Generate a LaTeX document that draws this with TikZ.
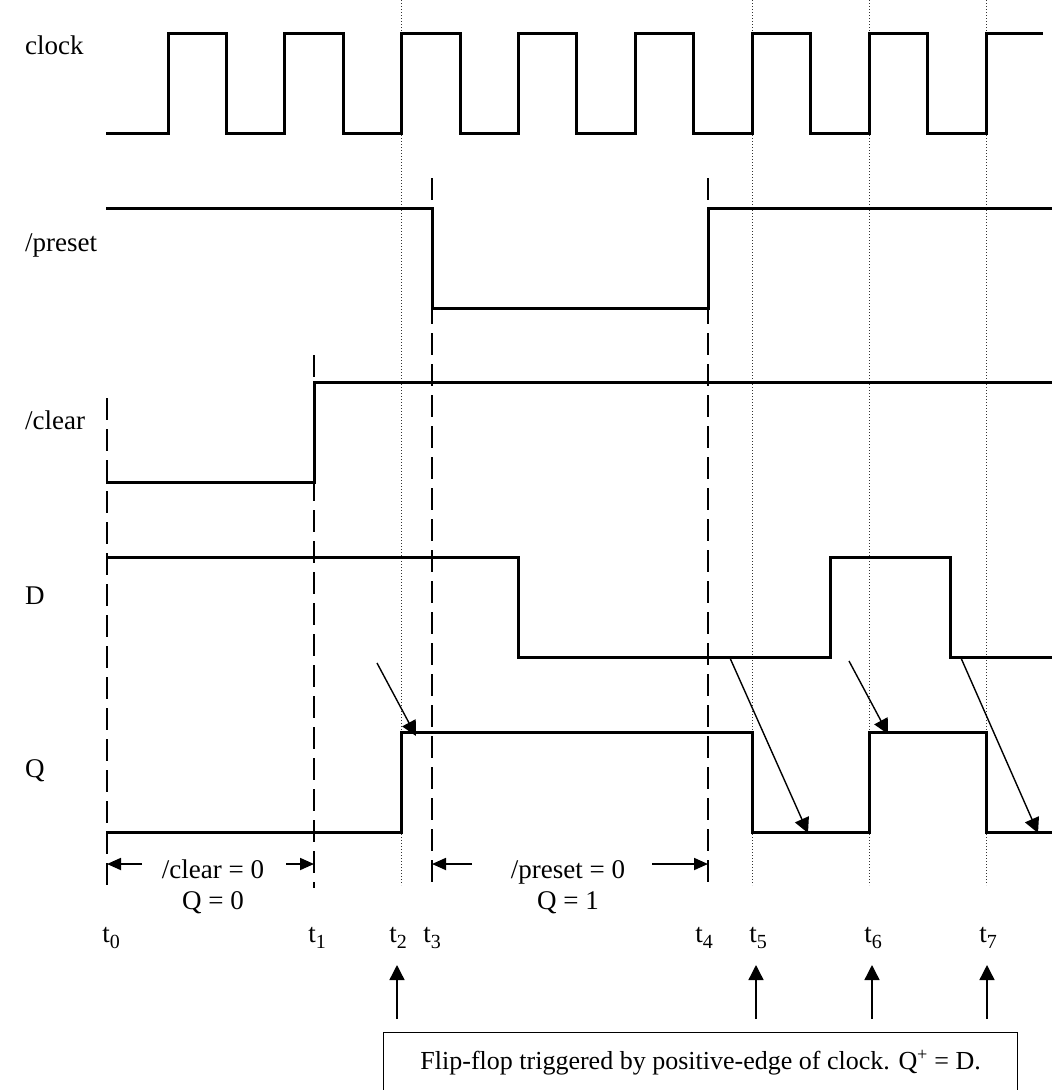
\documentclass[tikz,border=0pt]{standalone}
\usepackage{fontspec}
\setmainfont{Liberation Serif}
\usepackage{xcolor}
\usetikzlibrary{arrows.meta,positioning,calc}
\definecolor{inkblack}{HTML}{000000}
\definecolor{dotgrey}{HTML}{333333}
\newcommand{\tsub}[1]{t\raisebox{-0.22em}{\fontsize{20}{20}\selectfont #1}}
\tikzset{
  wave/.style={line width=3pt, line join=miter, color=inkblack},
  marker/.style={line width=2.2pt, dash pattern=on 22pt off 9pt, color=inkblack},
  edgeline/.style={line width=0.9pt, dash pattern=on 1.3pt off 1.7pt, color=dotgrey},
  cause/.style={-{Triangle[length=15pt,width=15pt]}, line width=1.4pt},
  span/.style={-{Triangle[length=14pt,width=12pt]}, line width=1.8pt},
  siglabel/.style={anchor=west, inner sep=0pt, font=\fontsize{27}{31}\selectfont},
  tlabel/.style={inner sep=0pt, font=\fontsize{27}{31}\selectfont},
  note/.style={align=center, inner sep=0pt, font=\fontsize{27}{31}\selectfont},
  trigbox/.style={draw, line width=1.4pt, anchor=north west, inner sep=0pt,
    minimum width=634pt, minimum height=60pt, font=\fontsize{26}{30}\selectfont},
}

\begin{document}
\begin{tikzpicture}[x=1pt, y=-1pt]
  \useasboundingbox (0,0) rectangle (1052,1090);

  % time instants
  \foreach \n/\x in {0/107,1/314,2/401.7,3/432,4/708,5/752.3,6/869.2,7/986}
    \coordinate (t\n) at (\x,0);
  \coordinate (floor) at (0,885);
  \coordinate (dashend) at (0,888);

  % clock edges
  \foreach \n in {2,5,6,7}
    \draw[edgeline] (t\n) -- (t\n |- floor);

  % asynchronous inputs
  \draw[marker] (107,398) -- (t0 |- dashend);
  \draw[marker] (314,355) -- (t1 |- dashend);
  \draw[marker] (432,178) -- (t3 |- dashend);
  \draw[marker] (708,178) -- (t4 |- dashend);

  % signal names
  \node[siglabel] (lclk) at (25,45) {clock};
  \node[siglabel] (lpre) at (25,245) {/preset};
  \node[siglabel] (lclr) at (25,420) {/clear};
  \node[siglabel] (ld) at (25,596) {D};
  \node[siglabel] (lq) at (25,771) {Q};

  % waveforms
  \draw[wave] (106,133) \foreach \k in {0,...,6}
    { -- ({168+116.86*\k},133) -- ++(0,-100) -- ++(58.4,0) -- ++(0,100) }
    -- (986,133) -- (986,33) -- (1043,33);
  \draw[wave] (106,208) -- (432,208) -- (432,308) -- (708,308) -- (708,208) -- (1052,208);
  \draw[wave] (106,482) -- (314,482) -- (314,382) -- (1052,382);
  \draw[wave] (106,557) -- (518,557) -- (518,657) -- (830,657) -- (830,557)
    -- (950,557) -- (950,657) -- (1052,657);
  \draw[wave] (106,832) -- (401.7,832) -- (401.7,732) -- (752.3,732) -- (752.3,832)
    -- (869.2,832) -- (869.2,732) -- (986,732) -- (986,832) -- (1052,832);

  % D sampled into Q
  \coordinate (d2) at (377,663);  \coordinate (q2) at (416,736);
  \coordinate (d5) at (730,658);  \coordinate (q5) at (808,833);
  \coordinate (d6) at (849,661);  \coordinate (q6) at (888,734);
  \coordinate (d7) at (961,658);  \coordinate (q7) at (1038,833);
  \foreach \n in {2,5,6,7}
    \draw[cause] (d\n) -- (q\n);

  % intervals
  \node[note] (clrnote) at (213,887) {/clear = 0\\Q = 0};
  \coordinate (c0) at (142,864);  \coordinate (c1) at (286,864);
  \draw[span] (c0) -- (t0 |- c0);
  \draw[span] (c1) -- (t1 |- c1);
  \node[note] (prenote) at (568,887) {/preset = 0\\Q = 1};
  \coordinate (p0) at (472,864);  \coordinate (p1) at (652,864);
  \draw[span] (p0) -- (t3 |- p0);
  \draw[span] (p1) -- (t4 |- p1);

  % time labels
  \foreach \n/\x in {0/111,1/317,2/398,3/432,4/704,5/758,6/873,7/988}
    \node[tlabel] (lt\n) at (\x,938) {\tsub{\n}};

  % trigger note
  \node[trigbox] (trig) at (383,1032) {Flip-flop triggered by positive-edge of clock. Q\textsuperscript{+} = D.};
  \foreach \x in {397,756,872,987}
    \draw[cause] (\x,1019) -- (\x,965);
\end{tikzpicture}
\end{document}
